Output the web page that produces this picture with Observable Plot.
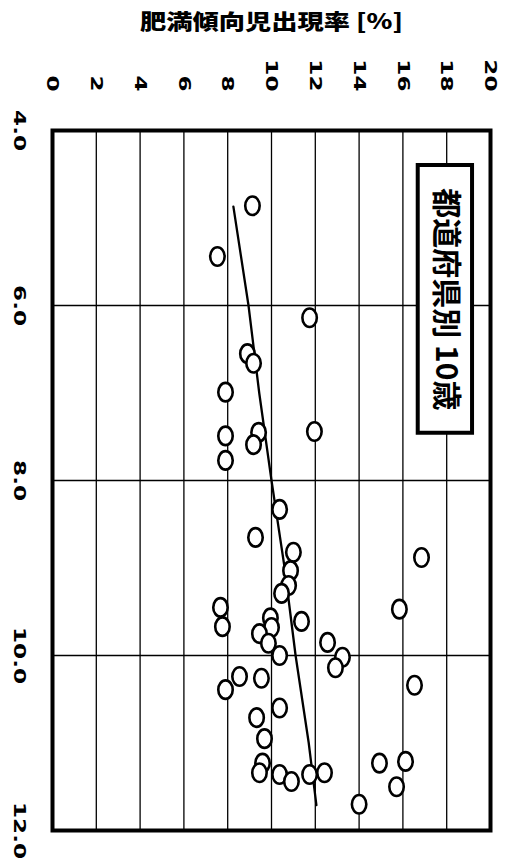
<!DOCTYPE html>
<html><head><meta charset="utf-8">
<script src="https://cdn.jsdelivr.net/npm/d3@7"></script>
<script src="https://cdn.jsdelivr.net/npm/@observablehq/plot@0.6"></script>
<style>html,body{margin:0;padding:0;background:#fff}</style>
</head><body><div id="chart"></div>
<script>
const title = "肥満傾向児出現率 [%]";
const noteLabel = "都道府県別 10歳";
const rateTicks = [0, 2, 4, 6, 8, 10, 12, 14, 16, 18, 20];
const factorTicks = [4, 6, 8, 10, 12];

// scatter (one point per prefecture): obesity rate [%] and explanatory value
const rate = [9.13, 7.53, 11.74, 8.9, 9.18, 7.9, 11.96, 9.41, 7.9, 9.18, 7.9, 10.37, 9.27, 11.0, 16.85, 10.87, 10.78, 10.46, 7.67, 15.84, 9.95, 11.37, 7.76, 10.0, 9.45, 12.56, 9.86, 10.37, 13.24, 12.92, 8.54, 9.54, 16.53, 7.9, 10.37, 9.32, 9.68, 16.12, 14.93, 9.59, 9.45, 12.42, 10.37, 11.74, 10.91, 15.71, 14.0];
const factor = [4.86, 5.44, 6.14, 6.55, 6.66, 6.99, 7.44, 7.45, 7.49, 7.59, 7.77, 8.33, 8.65, 8.82, 8.88, 9.03, 9.2, 9.29, 9.45, 9.47, 9.57, 9.61, 9.67, 9.68, 9.75, 9.85, 9.86, 10.0, 10.02, 10.14, 10.24, 10.26, 10.34, 10.39, 10.6, 10.71, 10.95, 11.21, 11.23, 11.23, 11.34, 11.34, 11.36, 11.36, 11.44, 11.5, 11.7];

// trend line
const trendFactor = [4.87, 6.0, 7.0, 8.0, 9.0, 10.0, 11.0, 11.71];
const trendRate = [8.26, 8.95, 9.44, 10.0, 10.6, 11.1, 11.7, 12.05];

// annotation box (data coordinates)
const noteRate = [16.7, 19.18];
const noteFactor = [4.4, 7.46];

const points = rate.map((r, i) => ({rate: r, factor: factor[i]}));
const trend = trendRate.map((r, i) => ({rate: r, factor: trendFactor[i]}));
const noteBox = [{r1: noteRate[0], r2: noteRate[1], f1: noteFactor[0], f2: noteFactor[1], label: noteLabel}];

const ellipse = {
  draw(ctx, size) {
    const r = Math.sqrt(size / Math.PI);
    const rx = r * 0.78, ry = r, k = 0.5523;
    ctx.moveTo(rx, 0);
    ctx.bezierCurveTo(rx, ry * k, rx * k, ry, 0, ry);
    ctx.bezierCurveTo(-rx * k, ry, -rx, ry * k, -rx, 0);
    ctx.bezierCurveTo(-rx, -ry * k, -rx * k, -ry, 0, -ry);
    ctx.bezierCurveTo(rx * k, -ry, rx, -ry * k, rx, 0);
    ctx.closePath();
  }
};

const tickFont = "DejaVu Sans, sans-serif";
const cjkFont = "Noto Sans CJK JP, sans-serif";

const chart = Plot.plot({
  width: 509,
  height: 858,
  marginTop: 130,
  marginLeft: 52,
  marginRight: 19,
  marginBottom: 28,
  style: {background: "white", color: "black", overflow: "visible"},
  x: {domain: [0, 20]},
  y: {domain: [4, 12], reverse: true},
  marks: [
    Plot.gridX(rateTicks.filter(d => d > 0 && d < 20), {stroke: "black", strokeOpacity: 1, strokeWidth: 1.3}),
    Plot.gridY(factorTicks.filter(d => d > 4 && d < 12), {stroke: "black", strokeOpacity: 1, strokeWidth: 1.3}),
    Plot.line(trend, {x: "rate", y: "factor", stroke: "black", strokeWidth: 2.3}),
    Plot.dot(points, {x: "rate", y: "factor", r: 9.25, symbol: ellipse, stroke: "black", strokeWidth: 2.6, fill: "white"}),
    Plot.rect(noteBox, {x1: "r1", x2: "r2", y1: "f1", y2: "f2", fill: "white", stroke: "black", strokeWidth: 4}),
    Plot.text(noteBox, {x: d => (d.r1 + d.r2) / 2, y: d => (d.f1 + d.f2) / 2, text: "label", rotate: 90, fontSize: 30, fontWeight: "bold", fontFamily: cjkFont, fill: "black", textAnchor: "middle", lineAnchor: "middle"}),
    Plot.frame({stroke: "black", strokeWidth: 4}),
    Plot.axisX(rateTicks, {anchor: "top", label: null, tickSize: 0, tickPadding: 39, tickRotate: 90, textAnchor: "end", lineAnchor: "middle", fontSize: 16.5, fontWeight: "bold", fontFamily: tickFont, fill: "black"}),
    Plot.axisY(factorTicks, {anchor: "left", label: null, tickSize: 0, tickPadding: 27, tickRotate: 90, textAnchor: "middle", lineAnchor: "top", tickFormat: d => d.toFixed(1), fontSize: 16.5, fontWeight: "bold", fontFamily: tickFont, fill: "black"}),
    Plot.text([title], {frameAnchor: "top", dy: -108, text: d => d, fontSize: 21, fontWeight: 900, fontFamily: cjkFont, fill: "black", lineAnchor: "middle", textAnchor: "middle"})
  ]
});

document.getElementById("chart").appendChild(chart);

// widen glyphs along the reading direction, as in the scanned original
function stretch(el, sx) {
  try {
    const len = el.getComputedTextLength();
    if (len > 0) {
      el.setAttribute("textLength", (len * sx).toFixed(2));
      el.setAttribute("lengthAdjust", "spacingAndGlyphs");
    }
  } catch (e) {}
}
chart.querySelectorAll('g[aria-label="x-axis tick label"] text, g[aria-label="y-axis tick label"] text').forEach(el => stretch(el, 1.4));
chart.querySelectorAll("text").forEach(el => { if (el.textContent === title) stretch(el, 1.25); });
</script>
</body></html>
